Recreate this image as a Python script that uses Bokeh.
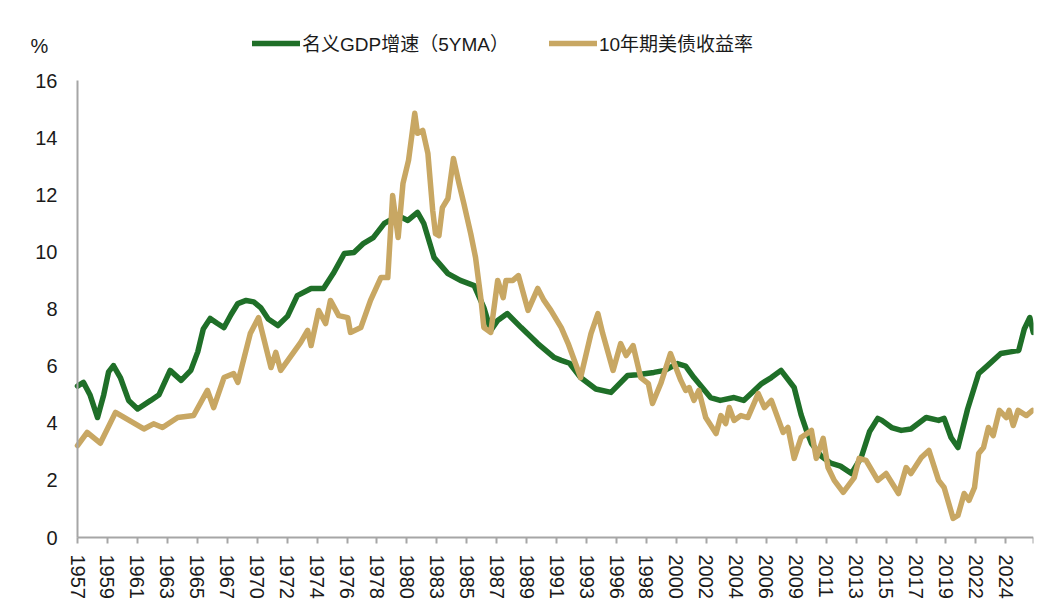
import numpy as np
from bokeh.plotting import figure
from bokeh.models import (ColumnDataSource, FixedTicker, Legend, LegendItem,
                          Label, Range1d)
from bokeh.embed import file_html
from bokeh.resources import INLINE

# values (decimal year, percent)
gdp_year = [1957.0, 1957.43, 1957.9, 1958.45, 1958.9, 1959.25, 1959.6, 1960.1,
            1960.7, 1961.35, 1962.3, 1962.9, 1963.7, 1964.5, 1965.2, 1965.7,
            1966.1, 1966.6, 1967.1, 1967.6, 1968.1, 1968.6, 1969.2, 1969.75,
            1970.25, 1970.8, 1971.5, 1972.2, 1972.9, 1973.9, 1974.8, 1975.5,
            1976.3, 1977.0, 1977.7, 1978.4, 1979.2, 1980.2, 1980.9, 1981.6,
            1982.05, 1982.8, 1983.8, 1984.7, 1985.7, 1986.4, 1986.9, 1987.4,
            1988.1, 1989.1, 1990.3, 1991.5, 1992.0, 1992.6, 1993.4, 1994.5,
            1995.6, 1996.8, 1997.5, 1998.7, 1999.5, 2000.4, 2001.0, 2001.6,
            2002.8, 2003.5, 2004.5, 2005.2, 2006.5, 2007.2, 2007.9, 2008.85,
            2009.35, 2009.7, 2010.1, 2010.8, 2011.5, 2012.2, 2013.0, 2013.7,
            2014.3, 2014.9, 2015.2, 2015.9, 2016.6, 2017.3, 2018.4, 2019.3,
            2019.7, 2020.2, 2020.7, 2021.4, 2022.2, 2022.8, 2023.8, 2024.5,
            2025.1, 2025.5, 2025.9, 2026.15]
gdp_value = [5.3, 5.43, 5.0, 4.2, 5.0, 5.8, 6.02, 5.6,
             4.8, 4.5, 4.8, 5.0, 5.85, 5.5, 5.85, 6.5,
             7.3, 7.67, 7.5, 7.35, 7.8, 8.19, 8.3, 8.25,
             8.05, 7.65, 7.42, 7.75, 8.47, 8.72, 8.72, 9.24,
             9.94, 9.98, 10.3, 10.5, 11.0, 11.27, 11.1, 11.38,
             11.0, 9.8, 9.24, 9.0, 8.82, 8.05, 7.25, 7.6,
             7.84, 7.35, 6.79, 6.3, 6.2, 6.1, 5.6, 5.2,
             5.08, 5.67, 5.7, 5.78, 5.85, 6.09, 6.0, 5.6,
             4.9, 4.8, 4.9, 4.8, 5.39, 5.6, 5.85, 5.25,
             4.3, 3.8, 3.3, 2.85, 2.6, 2.5, 2.24, 2.8,
             3.7, 4.17, 4.1, 3.85, 3.75, 3.8, 4.2, 4.1,
             4.17, 3.5, 3.15, 4.5, 5.74, 6.0, 6.44, 6.5,
             6.55, 7.3, 7.7, 7.18]

yld_year = [1957.0, 1957.7, 1958.65, 1959.75, 1961.8, 1962.5, 1963.15, 1964.25,
            1965.4, 1966.4, 1966.85, 1967.6, 1968.3, 1968.6, 1969.5, 1970.1,
            1971.0, 1971.35, 1971.7, 1973.15, 1973.65, 1973.9, 1974.45, 1974.95,
            1975.3, 1975.9, 1976.55, 1976.75, 1977.5, 1978.2, 1978.95, 1979.45,
            1979.8, 1980.2, 1980.55, 1980.95, 1981.4, 1981.6, 1981.98, 1982.35,
            1982.7, 1982.9, 1983.15, 1983.4, 1983.8, 1984.2, 1984.6, 1984.95,
            1985.45, 1985.8, 1986.2, 1986.4, 1986.9, 1987.4, 1987.8, 1988.0,
            1988.5, 1988.9, 1989.6, 1990.3, 1990.75, 1991.25, 1992.0, 1992.5,
            1993.4, 1994.15, 1994.65, 1995.0, 1995.75, 1996.3, 1996.7, 1997.2,
            1997.75, 1998.3, 1998.6, 1999.2, 1999.9, 2000.65, 2001.0, 2001.25,
            2001.6, 2001.95, 2002.45, 2003.2, 2003.55, 2003.9, 2004.15, 2004.5,
            2005.0, 2005.5, 2006.25, 2006.7, 2007.2, 2008.05, 2008.4, 2008.85,
            2009.35, 2010.1, 2010.45, 2010.95, 2011.3, 2011.75, 2012.4, 2013.2,
            2013.55, 2014.05, 2014.9, 2015.5, 2016.4, 2016.95, 2017.3, 2018.05,
            2018.6, 2019.3, 2019.7, 2020.35, 2020.7, 2021.15, 2021.5, 2021.9,
            2022.2, 2022.55, 2022.9, 2023.25, 2023.7, 2024.2, 2024.4, 2024.7,
            2025.05, 2025.65, 2026.1]
yld_value = [3.22, 3.68, 3.3, 4.38, 3.8, 3.98, 3.85, 4.2,
             4.27, 5.15, 4.55, 5.6, 5.74, 5.43, 7.14, 7.7,
             5.95, 6.48, 5.85, 6.83, 7.25, 6.72, 7.95, 7.49,
             8.3, 7.77, 7.7, 7.18, 7.35, 8.3, 9.1, 9.1,
             11.97, 10.5, 12.4, 13.2, 14.85, 14.15, 14.25, 13.45,
             11.45, 10.64, 10.57, 11.55, 11.87, 13.27, 12.4, 11.7,
             10.64, 9.8, 8.3, 7.35, 7.18, 9.0, 8.4, 9.0,
             9.0, 9.17, 7.95, 8.72, 8.3, 7.95, 7.35, 6.79,
             5.6, 7.14, 7.84, 7.14, 5.85, 6.79, 6.37, 6.72,
             5.6, 5.39, 4.69, 5.39, 6.44, 5.5, 5.15, 5.25,
             4.8, 5.15, 4.2, 3.64, 4.27, 3.99, 4.55, 4.1,
             4.27, 4.2, 5.04, 4.55, 4.8, 3.68, 3.85, 2.77,
             3.5, 3.75, 2.77, 3.47, 2.45, 2.0, 1.58, 2.1,
             2.77, 2.7, 2.0, 2.24, 1.54, 2.45, 2.24, 2.8,
             3.05, 2.0, 1.75, 0.67, 0.77, 1.54, 1.3, 1.75,
             2.94, 3.15, 3.85, 3.57, 4.45, 4.2, 4.45, 3.92,
             4.45, 4.27, 4.45]

tick_labels = ["1957", "1959", "1961", "1963", "1965", "1967", "1970", "1972",
               "1974", "1976", "1978", "1980", "1983", "1985", "1987", "1989",
               "1991", "1993", "1996", "1998", "2000", "2002", "2004", "2006",
               "2009", "2011", "2013", "2015", "2017", "2019", "2022", "2024"]
y_ticks = [0, 2, 4, 6, 8, 10, 12, 14, 16]

gdp_name = "名义GDP增速（5YMA）"
yld_name = "10年期美债收益率"
unit = "%"

GREEN = "#1f6f28"
GOLD = "#c8a763"
AXIS = "#a6a6a6"
FONT = "Liberation Sans, Noto Sans CJK SC"
TXT = "#1a1a1a"

START = 1957.0
END_MONTH = 830
Y_MAX = 16

# the frame is stretched past the data area on the left, top and bottom so
# that the unit mark, legend and tick labels all fall inside it; both axes are
# pinned at 0 and bounded to the data area
PX_PER_MONTH = 956 / END_MONTH
PX_PER_UNIT = 457 / Y_MAX
X_START = -57 / PX_PER_MONTH
Y_END = Y_MAX + 60 / PX_PER_UNIT
Y_START = -75 / PX_PER_UNIT


def months(years):
    return (np.array(years) - START) * 12


gdp_src = ColumnDataSource(dict(x=months(gdp_year), y=gdp_value))
yld_src = ColumnDataSource(dict(x=months(yld_year), y=yld_value))

p = figure(width=1043, height=612, output_backend="svg", toolbar_location=None,
           x_range=Range1d(X_START, END_MONTH), y_range=Range1d(Y_START, Y_END),
           min_border_left=20, min_border_right=10, min_border_top=20,
           min_border_bottom=0)
p.outline_line_color = None
p.xgrid.visible = False
p.ygrid.visible = False

r_gdp = p.line("x", "y", source=gdp_src, line_color=GREEN, line_width=5.5,
               line_join="round", line_cap="round")
r_yld = p.line("x", "y", source=yld_src, line_color=GOLD, line_width=5.5,
               line_join="round", line_cap="round")

# x axis: a label every 26 months, plus a closing tick at the end
tick_pos = [i * 26 for i in range(len(tick_labels))] + [END_MONTH]
p.xaxis.ticker = FixedTicker(ticks=tick_pos)
overrides = {pos: lab for pos, lab in zip(tick_pos, tick_labels)}
overrides[END_MONTH] = ""
p.xaxis.major_label_overrides = overrides
p.xaxis.bounds = (0, END_MONTH)
p.xaxis.fixed_location = 0
p.xaxis.major_label_orientation = "vertical"
p.xaxis.minor_tick_line_color = None
p.xaxis.major_tick_in = 0
p.xaxis.major_tick_out = 6
p.xaxis.major_tick_line_color = AXIS
p.xaxis.major_tick_line_width = 2
p.xaxis.major_label_standoff = 11

p.yaxis.ticker = FixedTicker(ticks=y_ticks)
p.yaxis.bounds = (0, Y_MAX)
p.yaxis.fixed_location = 0
p.yaxis.minor_tick_line_color = None
p.yaxis.major_tick_line_color = None
p.yaxis.major_tick_in = 0
p.yaxis.major_tick_out = 0
p.yaxis.major_label_standoff = 20

for ax in (p.xaxis, p.yaxis):
    ax.axis_line_color = AXIS
    ax.axis_line_width = 2
    ax.major_label_text_font = FONT
    ax.major_label_text_font_size = "20px"
    ax.major_label_text_color = TXT

legend = Legend(items=[LegendItem(label=gdp_name, renderers=[r_gdp]),
                       LegendItem(label=yld_name, renderers=[r_yld])],
                orientation="horizontal", location=(232, 556),
                padding=0, margin=0, spacing=40, glyph_width=48,
                label_standoff=2, border_line_color=None,
                background_fill_alpha=0, label_text_font=FONT,
                label_text_font_size="19px", label_text_color=TXT)
p.add_layout(legend, "center")

p.add_layout(Label(x=10, y=567, x_units="screen", y_units="screen", text=unit,
                   text_font=FONT, text_font_size="20px", text_color=TXT,
                   text_baseline="middle"))

open("out.html", "w").write(file_html(p, INLINE))
